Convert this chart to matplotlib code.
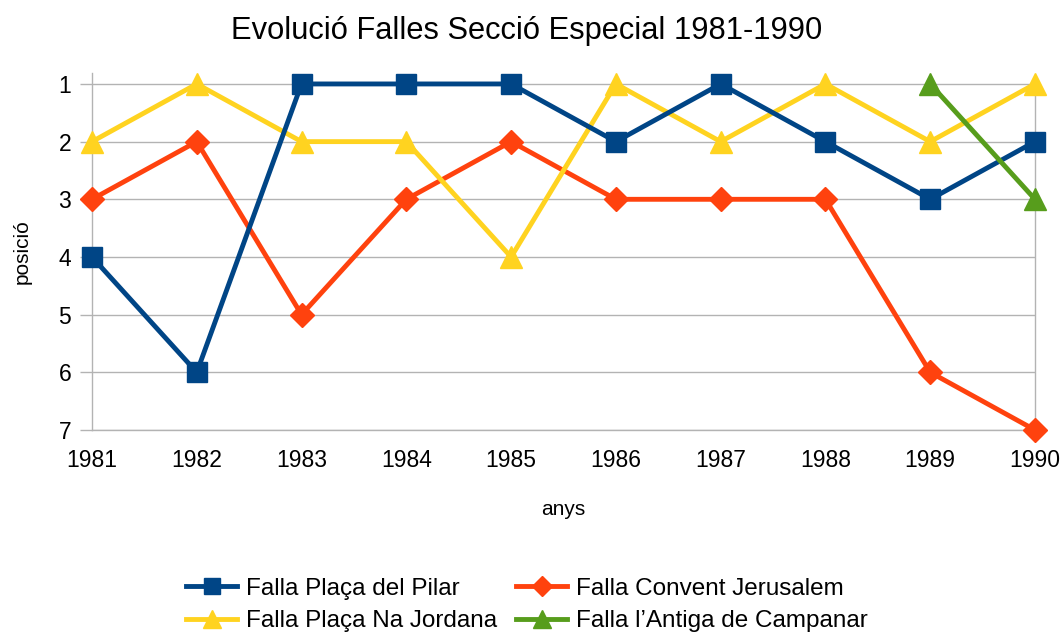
import matplotlib
matplotlib.use("Agg")
import matplotlib.pyplot as plt

years = [1981, 1982, 1983, 1984, 1985, 1986, 1987, 1988, 1989, 1990]
pilar = [4, 6, 1, 1, 1, 2, 1, 2, 3, 2]
convent = [3, 2, 5, 3, 2, 3, 3, 3, 6, 7]
jordana = [2, 1, 2, 2, 4, 1, 2, 1, 2, 1]
antiga_years = [1989, 1990]
antiga = [1, 3]
yticks = [1, 2, 3, 4, 5, 6, 7]

plt.rcParams['font.family'] = ['Liberation Sans', 'DejaVu Sans']

fig = plt.figure(figsize=(10.64, 6.33), dpi=100)
ax = fig.add_axes([92/1064, 1-430/633, (1035-92)/1064, (430-73)/633])

lw = 3.5
l_conv, = ax.plot(years, convent, color='#ff420e', lw=lw, marker='D', ms=12, zorder=3,
                  label='Falla Convent Jerusalem', clip_on=False)
l_jord, = ax.plot(years, jordana, color='#ffd320', lw=lw, marker='^', ms=16, zorder=4,
                  label='Falla Plaça Na Jordana', clip_on=False)
l_pil, = ax.plot(years, pilar, color='#004586', lw=lw, marker='s', ms=14, zorder=5,
                 label='Falla Plaça del Pilar', clip_on=False)
l_ant, = ax.plot(antiga_years, antiga, color='#579d1c', lw=lw, marker='^', ms=16, zorder=6,
                 label='Falla l\u2019Antiga de Campanar', clip_on=False)

ax.set_xlim(years[0], years[-1])
ax.set_ylim(7, 0.81)
ax.set_yticks(yticks)
ax.set_xticks(years)
ax.yaxis.grid(True, color='#b3b3b3', lw=1.0)
ax.set_axisbelow(True)
ax.spines['top'].set_visible(False)
for s in ['left', 'bottom', 'right']:
    ax.spines[s].set_color('#b3b3b3')
    ax.spines[s].set_linewidth(1.0)
ax.spines['right'].set_bounds(7, 1)
ax.tick_params(axis='y', length=9, color='#b3b3b3', width=1.0, pad=6, labelsize=16.5)
ax.tick_params(axis='x', length=0, pad=14, labelsize=16.5)

ax.set_xlabel('anys', fontsize=15, labelpad=20)
ax.set_ylabel('posició', fontsize=15, labelpad=19)
fig.suptitle('Evolució Falles Secció Especial 1981-1990', fontsize=22.2, x=527/1064, y=1-31/633, va='center')

fig.legend(handles=[l_pil, l_jord, l_conv, l_ant], ncol=2, loc='center',
           bbox_to_anchor=(527/1064, 1-605/633), frameon=False, fontsize=17.5,
           handlelength=2.1, columnspacing=0.8, labelspacing=0.42, handletextpad=0.35,
           markerscale=0.85, borderaxespad=0)

fig.savefig('out.png', dpi=100)
